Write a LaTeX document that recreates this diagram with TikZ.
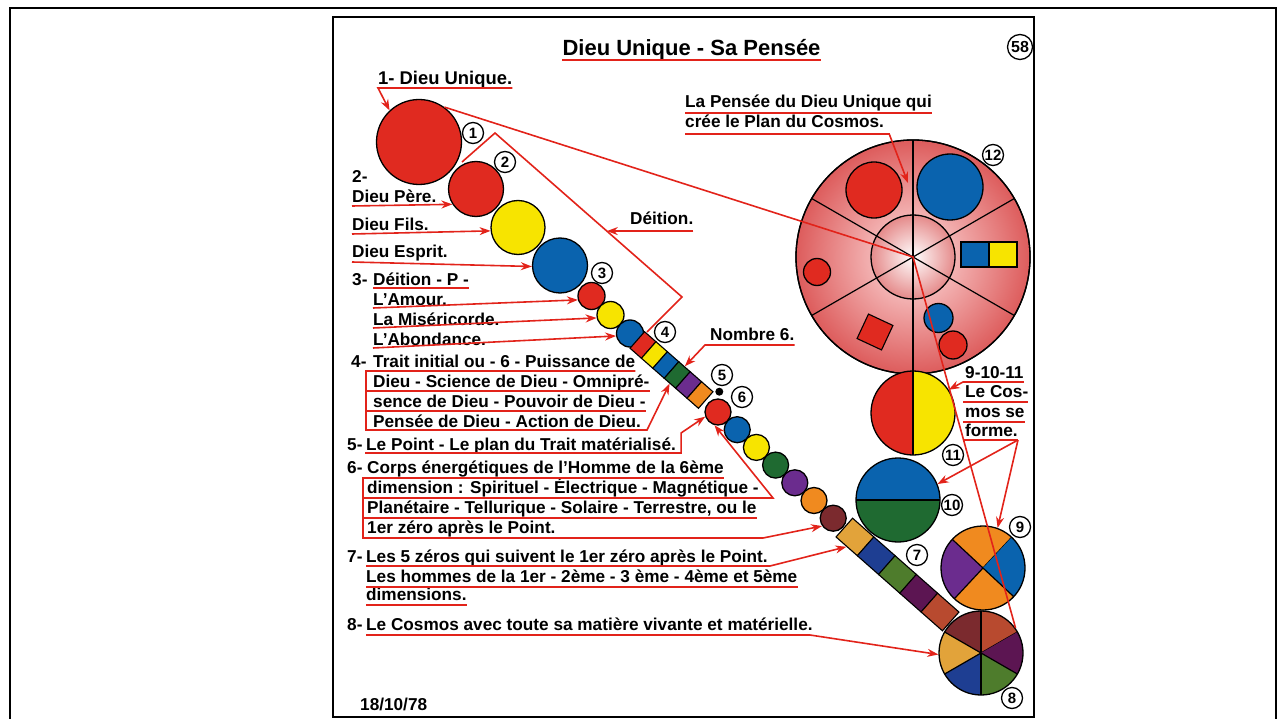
\documentclass[tikz,border=0pt]{standalone}
\usepackage{fontspec}
\setmainfont{Liberation Sans}
\usetikzlibrary{arrows.meta,calc}

\definecolor{lred}{HTML}{E2231A}
\definecolor{dred}{HTML}{E02A20}
\definecolor{dyel}{HTML}{F7E400}
\definecolor{dblu}{HTML}{0A63AE}
\definecolor{dgrn}{HTML}{1F6A31}
\definecolor{dpur}{HTML}{6B2C8E}
\definecolor{dora}{HTML}{F08A1F}
\definecolor{dbrn}{HTML}{7B2A2E}
\definecolor{dgld}{HTML}{E2A33A}
\definecolor{dnav}{HTML}{1E3E92}
\definecolor{doli}{HTML}{4E7C2C}
\definecolor{dplm}{HTML}{5C1552}
\definecolor{dbrk}{HTML}{B84A2F}
\definecolor{pkin}{HTML}{FFE2E2}
\definecolor{pkout}{HTML}{DD5C5C}
\definecolor{pkmid}{HTML}{E58A8A}

\begin{document}
\begin{tikzpicture}[x=1pt, y=1pt,
    ball/.style={circle, draw=black, line width=1.3pt, fill=#1, inner sep=0pt},
    rim/.style={circle, draw=black, line width=1.3pt, inner sep=0pt},
    cell/.style={rectangle, draw=black, line width=1.1pt, fill=#1, inner sep=0pt},
    num/.style={circle, draw=black, line width=1.3pt, fill=white, inner sep=0pt,
        minimum size=21pt, font=\bfseries\fontsize{15}{15}\selectfont},
    txt/.style={anchor=base west, inner sep=0pt, font=\bfseries\fontsize{17.2}{20}\selectfont},
    ul/.style={draw=lred, line width=1.6pt},
    arr/.style={draw=lred, line width=1.6pt, -{Stealth[length=11pt, width=8pt]}}]
    \useasboundingbox (0,0) rectangle (1284,-719);

    % frames
    \draw [line width=2pt] (10,-725) -- (10,-8) -- (1276,-8) -- (1276,-725);
    \draw [line width=1.6pt] (333,-17) rectangle (1034,-717);

    % circle 12
    \coordinate (o12) at (913,-257);
    \shadedraw [inner color=pkin, outer color=pkout, line width=1.3pt] (o12) circle (117);
    \shadedraw [inner color=white, outer color=pkmid, line width=1.3pt] (o12) circle (42);
    \foreach \a in {90,30,150}
        \draw [line width=1.2pt] ($(o12)+(\a:117)$) -- ($(o12)+(\a+180:117)$);
    \node [rim, minimum size=234pt] (c12) at (o12) {};
    \node [ball=dred, minimum size=56pt] (r12a) at (874,-190) {};
    \node [ball=dblu, minimum size=66pt] (b12a) at (950,-187) {};
    \node [cell=dblu, minimum width=28pt, minimum height=25pt] (b12s) at (975,-254.5) {};
    \node [cell=dyel, minimum width=28pt, minimum height=25pt] (y12s) at (1003,-254.5) {};
    \node [ball=dred, minimum size=27pt] (r12b) at (817,-272) {};
    \node [cell=dred, minimum size=27pt, rotate=-25] (r12s) at (875,-332) {};
    \node [ball=dblu, minimum size=29pt] (b12b) at (938.5,-318) {};
    \node [ball=dred, minimum size=28pt] (r12c) at (953,-345) {};

    % circles 11 and 10
    \coordinate (o11) at (913,-413);
    \fill [dred] ($(o11)+(0,42)$) arc (90:270:42) -- cycle;
    \fill [dyel] ($(o11)+(0,42)$) arc (90:-90:42) -- cycle;
    \draw [line width=1.2pt] ($(o11)+(0,42)$) -- ($(o11)-(0,42)$);
    \node [rim, minimum size=84pt] (c11) at (o11) {};
    \coordinate (o10) at (898,-500);
    \fill [dblu] ($(o10)+(42,0)$) arc (0:180:42) -- cycle;
    \fill [dgrn] ($(o10)+(42,0)$) arc (0:-180:42) -- cycle;
    \draw [line width=1.2pt] ($(o10)+(42,0)$) -- ($(o10)-(42,0)$);
    \node [rim, minimum size=84pt] (c10) at (o10) {};

    % circle 9
    \coordinate (o9) at (983,-568);
    \foreach \a/\b/\c in {47/137/dora, 137/227/dpur, 227/317/dora, 317/407/dblu} {
        \fill [\c] (o9) -- ++(\a:42) arc (\a:\b:42) -- cycle;
        \draw [line width=1.2pt] (o9) -- ++(\a:42);
    }
    \node [rim, minimum size=84pt] (c9) at (o9) {};

    % chain
    \node [ball=dred, minimum size=85pt] (c1) at (419,-142) {};
    \node [ball=dred, minimum size=55pt] (c2) at (476,-189) {};
    \node [ball=dyel, minimum size=54pt] (cfils) at (518,-227.5) {};
    \node [ball=dblu, minimum size=55pt] (cesprit) at (560,-265.5) {};
    \node [ball=dred, minimum size=27pt] (camour) at (591.5,-296) {};
    \node [ball=dyel, minimum size=27pt] (cmiseri) at (610.5,-315) {};
    \node [ball=dblu, minimum size=27pt] (cabond) at (630,-333.5) {};
    \foreach \c [count=\i from 0] in {dred,dyel,dblu,dgrn,dpur,dora}
        \node [cell=\c, minimum width=15.2pt, minimum height=22pt, rotate=-41.3]
            (sq\i) at ({643+11.4*\i},{-345-10*\i}) {};
    \node [circle, fill=black, minimum size=8pt, inner sep=0pt] (dot) at (719.3,-391.7) {};
    \foreach \c [count=\i from 0] in {dred,dblu,dyel,dgrn,dpur,dora,dbrn}
        \node [ball=\c, minimum size=26pt] (p\i) at ({718+19.2*\i},{-412-17.7*\i}) {};
    \foreach \c [count=\i from 0] in {dgld,dnav,doli,dplm,dbrk}
        \node [cell=\c, minimum width=28.5pt, minimum height=25pt, rotate=-41.4]
            (z\i) at ({855+21.25*\i},{-537-18.75*\i}) {};

    % circle 8
    \coordinate (o8) at (981,-653);
    \foreach \a/\b/\c in {30/90/dbrk, 90/150/dbrn, 150/210/dgld, 210/270/dnav, 270/330/doli, 330/390/dplm} {
        \fill [\c] (o8) -- ++(\a:42) arc (\a:\b:42) -- cycle;
        \draw [line width=1.2pt] (o8) -- ++(\a:42);
    }
    \node [rim, minimum size=84pt] (c8) at (o8) {};

    % numbers
    \node [num, minimum size=25pt, font=\bfseries\fontsize{16}{16}\selectfont] (n58) at (1020,-47) {58};
    \node [num] (n1) at (473,-133) {1};
    \node [num] (n2) at (505,-162) {2};
    \node [num] (n3) at (602,-273) {3};
    \node [num] (n4) at (665,-332) {4};
    \node [num] (n5) at (722,-375) {5};
    \node [num] (n6) at (742,-397) {6};
    \node [num] (n7) at (917,-555) {7};
    \node [num] (n8) at (1012,-698) {8};
    \node [num] (n9) at (1020,-527) {9};
    \node [num] (n10) at (952,-505) {10};
    \node [num] (n11) at (953,-455) {11};
    \node [num] (n12) at (993,-155) {12};

    % texts
    \node [txt, anchor=base, font=\bfseries\fontsize{22}{24}\selectfont] (ttitle) at (691.5,-56) {Dieu Unique - Sa Pensée};
    \node [txt, font=\bfseries\fontsize{18.4}{20}\selectfont] (tuni) at (378,-85) {1- Dieu Unique.};
    \node [txt] (t2) at (352,-183) {2-};
    \node [txt] (tpere) at (352,-203) {Dieu Père.};
    \node [txt] (tfils) at (352,-231) {Dieu Fils.};
    \node [txt] (tesp) at (352,-258) {Dieu Esprit.};
    \node [txt] (t3) at (352,-285) {3-};
    \node [txt] (tdei3) at (373,-285) {Déition - P -};
    \node [txt] (tamo) at (373,-305) {L’Amour.};
    \node [txt] (tmis) at (373,-325) {La Miséricorde.};
    \node [txt] (tabo) at (373,-345) {L’Abondance.};
    \node [txt] (t4) at (351,-367) {4-};
    \node [txt] (t4a) at (373,-367) {Trait initial ou - 6 - Puissance de};
    \node [txt] (t4b) at (373,-387) {Dieu - Science de Dieu - Omnipré-};
    \node [txt] (t4c) at (373,-407) {sence de Dieu - Pouvoir de Dieu -};
    \node [txt] (t4d) at (373,-427) {Pensée de Dieu - Action de Dieu.};
    \node [txt] (t5) at (347,-450) {5-};
    \node [txt] (tpt) at (366,-450) {Le Point - Le plan du Trait matérialisé.};
    \node [txt] (t6) at (347,-473) {6-};
    \node [txt] (t6a) at (367,-473) {Corps énergétiques de l’Homme de la 6ème};
    \node [txt] (t6b) at (367,-493) {dimension : Spirituel - Électrique - Magnétique -};
    \node [txt] (t6c) at (367,-513) {Planétaire - Tellurique - Solaire - Terrestre, ou le};
    \node [txt] (t6d) at (367,-533) {1er zéro après le Point.};
    \node [txt] (t7) at (347,-562) {7-};
    \node [txt] (t7a) at (366,-562) {Les 5 zéros qui suivent le 1er zéro après le Point.};
    \node [txt] (t7b) at (366,-582) {Les hommes de la 1er - 2ème - 3 ème - 4ème et 5ème};
    \node [txt] (t7c) at (366,-600) {dimensions.};
    \node [txt] (t8) at (347,-630) {8-};
    \node [txt] (t8a) at (366,-630) {Le Cosmos avec toute sa matière vivante et matérielle.};
    \node [txt] (tdate) at (360,-710) {18/10/78};
    \node [txt] (tdei) at (630,-225) {Déition.};
    \node [txt] (tnom) at (710,-340) {Nombre 6.};
    \node [txt] (tpa) at (685,-108) {La Pensée du Dieu Unique qui};
    \node [txt] (tpb) at (685,-128) {crée le Plan du Cosmos.};
    \node [txt] (tc1) at (965,-378) {9-10-11};
    \node [txt] (tc2) at (965,-397) {Le Cos-};
    \node [txt] (tc3) at (965,-417) {mos se};
    \node [txt] (tc4) at (965,-436) {forme.};

    % red lines
    \coordinate (b1) at (462,-162);
    \coordinate (b2) at (495,-133);
    \coordinate (b3) at (682,-297);
    \coordinate (b4) at (647,-332);
    \coordinate (kdei) at ($(b2)!0.598!(b3)$);
    \coordinate (kpen) at (908,-183);
    \coordinate (k6b) at (773,-498);
    \coordinate (k6) at (763,-538);
    \coordinate (k7) at (770,-566);
    \coordinate (k8) at (810,-635);
    \draw [ul] (c1.54) -- (o12) -- (c8.36);
    \draw [ul] (b1) -- (b2) -- (b3) -- (b4);
    \draw [ul] ([yshift=-4pt]ttitle.base west) -- ([yshift=-4pt]ttitle.base east);
    \draw [arr] ([yshift=-3pt]tuni.base east) -- ([yshift=-3pt]tuni.base west) -- (c1.133);
    \draw [arr] ([yshift=-3pt]tpere.base west) -- (c2.213);
    \draw [arr] ([yshift=-3pt]tfils.base west) -- (cfils.187);
    \draw [arr] ([yshift=-4pt]tesp.base west) -- (cesprit.182);
    \draw [ul] ([yshift=-3pt]tdei3.base west) -- ([yshift=-3pt]tdei3.base east);
    \draw [arr] ([yshift=-3pt]tamo.base west) -- (camour.196);
    \draw [arr] ([yshift=-3pt]tmis.base west) -- (cmiseri.192);
    \draw [arr] ([yshift=-3pt]tabo.base west) -- (cabond.190);
    \draw [arr] ([yshift=-4pt]t4a.base east) -- ([xshift=-7pt,yshift=-4pt]t4a.base west)
        |- ([xshift=6pt,yshift=-3pt]t4d.base east) -- (sq3.south);
    \draw [ul] ([xshift=-7pt,yshift=-4pt]t4b.base west) -- ([yshift=-4pt]t4b.base east);
    \draw [ul] ([xshift=-7pt,yshift=-4pt]t4c.base west) -- ([yshift=-4pt]t4c.base east);
    \draw [arr] ([xshift=-1pt,yshift=-3pt]tpt.base west) -- ([xshift=5pt,yshift=-3pt]tpt.base east)
        -- ++(0,20) -- (p0.200);
    \draw [arr] ([yshift=-5pt]t6a.base east) -- ([xshift=-4pt,yshift=-5pt]t6a.base west) |- (k6) -- (p6.215);
    \draw [arr] ([xshift=-4pt,yshift=-5pt]t6b.base west) -- (k6b) -- (p0.255);
    \draw [ul] ([xshift=-4pt,yshift=-5pt]t6c.base west) -- ([yshift=-5pt]t6c.base east);
    \draw [arr] ([yshift=-4pt]t7a.base west) -- (k7) -- (z0.south);
    \draw [ul] ([yshift=-5pt]t7b.base west) -- ([yshift=-5pt]t7b.base east);
    \draw [ul] ([yshift=-5pt]t7c.base west) -- ([yshift=-5pt]t7c.base east);
    \draw [arr] ([yshift=-5pt]t8a.base west) -- (k8) -- (c8.182);
    \draw [arr] (tdei.base east |- kdei) -- (kdei);
    \draw [arr] ([yshift=-5pt]tnom.base east) -- ([xshift=-5pt,yshift=-5pt]tnom.base west) -- (sq3.north);
    \draw [ul] ([yshift=-5pt]tpa.base west) -- ([yshift=-5pt]tpa.base east);
    \draw [arr] ([yshift=-6pt]tpb.base west) -- ([xshift=5pt,yshift=-6pt]tpb.base east) -- (kpen);
    \draw [arr] ([yshift=-4pt]tc1.base east) -- ([xshift=-2pt,yshift=-4pt]tc1.base west) -- (c11.33);
    \draw [ul] ([xshift=-2pt,yshift=-5pt]tc2.base west) -- ([yshift=-5pt]tc2.base east);
    \draw [ul] ([xshift=-2pt,yshift=-5pt]tc3.base west) -- ([yshift=-5pt]tc3.base east);
    \draw [ul] ([xshift=-2pt,yshift=-4pt]tc4.base west) -- ([yshift=-4pt]tc4.base east);
    \draw [arr] ([yshift=-4pt]tc4.base east) -- (c10.22);
    \draw [arr] ([yshift=-4pt]tc4.base east) -- (c9.70);
\end{tikzpicture}
\end{document}
